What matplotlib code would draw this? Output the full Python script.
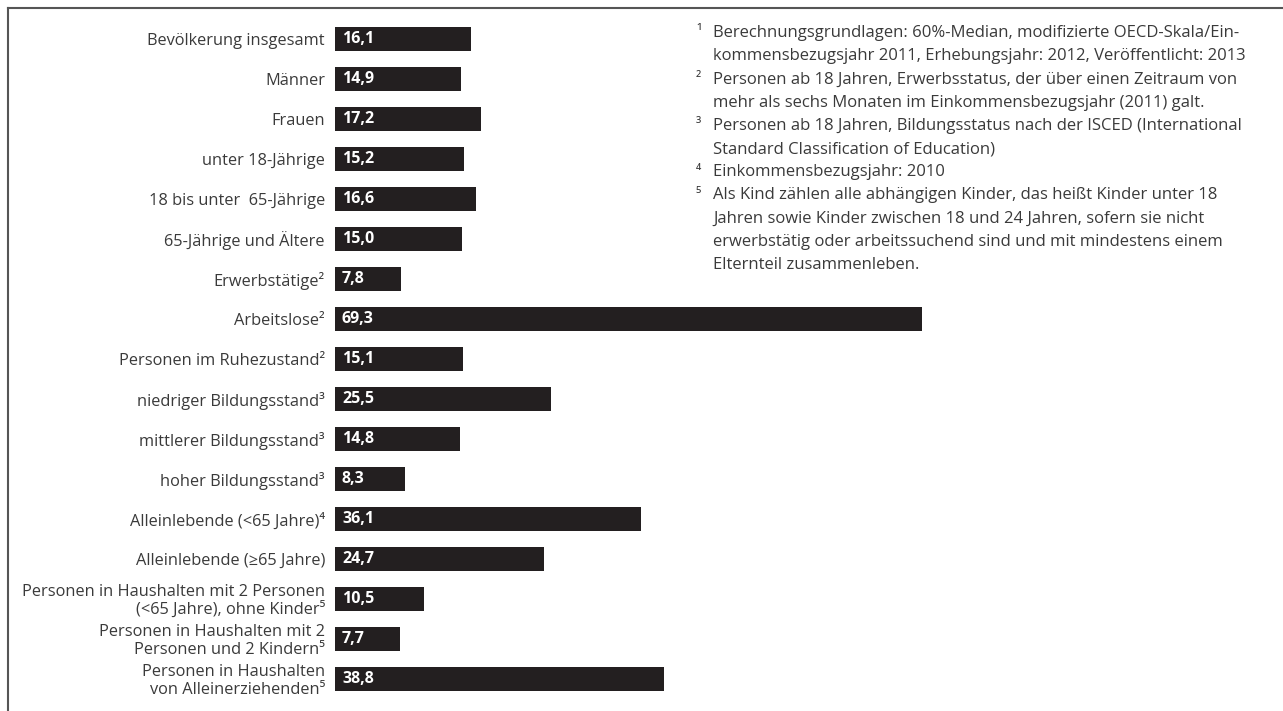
import matplotlib
matplotlib.use("Agg")
import matplotlib.pyplot as plt
from matplotlib.lines import Line2D

plt.rcParams['font.family'] = ['Open Sans', 'DejaVu Sans']

categories = [
    "Bevölkerung insgesamt",
    "Männer",
    "Frauen",
    "unter 18-Jährige",
    "18 bis unter  65-Jährige",
    "65-Jährige und Ältere",
    "Erwerbstätige²",
    "Arbeitslose²",
    "Personen im Ruhezustand²",
    "niedriger Bildungsstand³",
    "mittlerer Bildungsstand³",
    "hoher Bildungsstand³",
    "Alleinlebende (<65 Jahre)⁴",
    "Alleinlebende (≥65 Jahre)",
    "Personen in Haushalten mit 2 Personen\n(<65 Jahre), ohne Kinder⁵",
    "Personen in Haushalten mit 2\nPersonen und 2 Kindern⁵",
    "Personen in Haushalten\nvon Alleinerziehenden⁵",
]
values = [16.1, 14.9, 17.2, 15.2, 16.6, 15.0, 7.8, 69.3, 15.1, 25.5, 14.8, 8.3,
          36.1, 24.7, 10.5, 7.7, 38.8]
value_labels = [f"{v:.1f}".replace(".", ",") for v in values]

footnote_marks = ["¹", "", "²", "", "³", "", "⁴", "⁵", "", "", ""]
footnote_lines = [
    "Berechnungsgrundlagen: 60%-Median, modifizierte OECD-Skala/Ein-",
    "kommensbezugsjahr 2011, Erhebungsjahr: 2012, Veröffentlicht: 2013",
    "Personen ab 18 Jahren, Erwerbsstatus, der über einen Zeitraum von",
    "mehr als sechs Monaten im Einkommensbezugsjahr (2011) galt.",
    "Personen ab 18 Jahren, Bildungsstatus nach der ISCED (International",
    "Standard Classification of Education)",
    "Einkommensbezugsjahr: 2010",
    "Als Kind zählen alle abhängigen Kinder, das heißt Kinder unter 18",
    "Jahren sowie Kinder zwischen 18 und 24 Jahren, sofern sie nicht",
    "erwerbstätig oder arbeitssuchend sind und mit mindestens einem",
    "Elternteil zusammenleben.",
]

W, H = 1283, 711
fig = plt.figure(figsize=(W / 100, H / 100), dpi=100)
fig.patch.set_facecolor("white")

bar_color = "#231f20"
text_color = "#3a3a3a"

x0_px = 335
px_per_unit = 8.47
row0_px = 39
row_px = 40

ax = fig.add_axes([x0_px / W, 0, (W - x0_px) / W, 1])
ax.set_xlim(0, (W - x0_px) / px_per_unit)
ax.set_ylim((H - row0_px) / row_px, -row0_px / row_px)
ax.axis("off")

ys = list(range(len(categories)))
ax.barh(ys, values, height=24 / row_px, color=bar_color, left=0)

for y, cat, v, lab in zip(ys, categories, values, value_labels):
    ax.text(-10 / px_per_unit, y + 0.05, cat, ha="right", va="center",
            fontsize=11.8, color=text_color, linespacing=1.1, clip_on=False)
    ax.text(7 / px_per_unit, y, lab, ha="left", va="center",
            fontsize=11.5, fontweight="bold", color="white")

# footnotes
fn_top = 33
fn_step = 23.2
for i, (mark, line) in enumerate(zip(footnote_marks, footnote_lines)):
    ypx = fn_top + i * fn_step
    fig.text(713 / W, 1 - ypx / H, line, ha="left", va="center",
             fontsize=12, color=text_color)
    if mark:
        fig.text(696 / W, 1 - ypx / H, mark, ha="left", va="center",
                 fontsize=11, color=text_color)

# frame (left and top lines)
frame_color = "#555555"
fig.add_artist(Line2D([8 / W, 8 / W], [0, 1 - 8 / H], transform=fig.transFigure,
                      color=frame_color, lw=1.5))
fig.add_artist(Line2D([8 / W, 1], [1 - 8 / H, 1 - 8 / H], transform=fig.transFigure,
                      color=frame_color, lw=1.5))

fig.savefig("out.png", dpi=100, facecolor="white")
